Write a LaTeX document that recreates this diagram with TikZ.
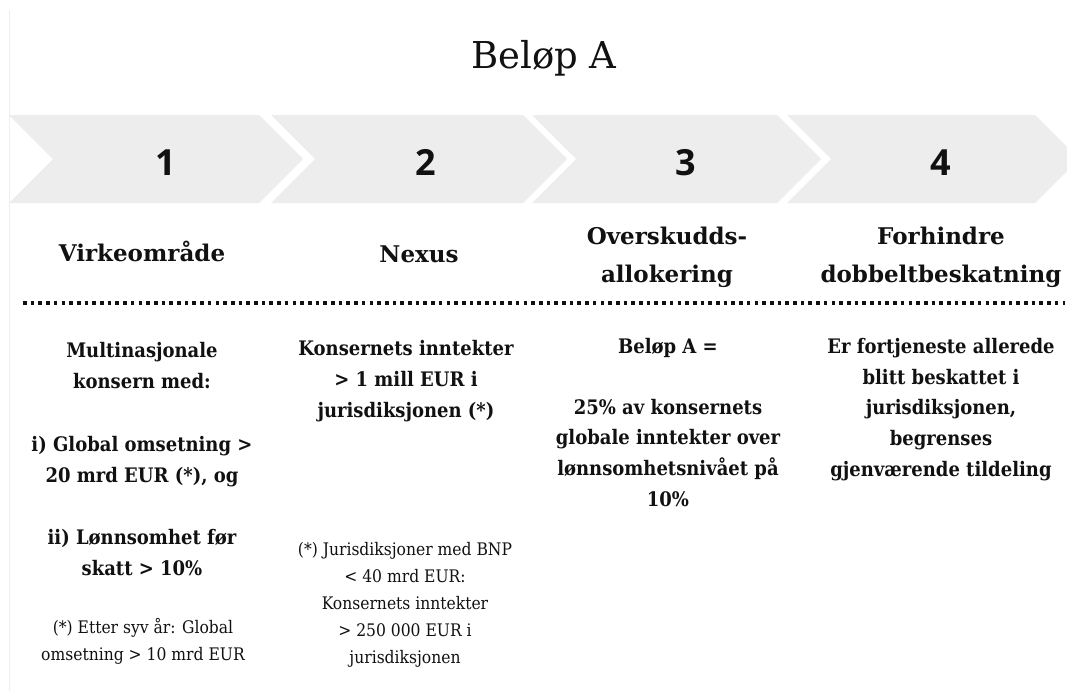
\documentclass[tikz,border=0pt]{standalone}
\usepackage{fontspec}
\setmainfont{DejaVu Serif}
\newfontfamily\condfont{DejaVu Serif Condensed}
\newfontfamily\numfont{Open Sans}
\definecolor{chevgray}{HTML}{EDEDED}
\definecolor{faintline}{HTML}{EEEEEE}
\definecolor{ink}{HTML}{111111}
\begin{document}
\begin{tikzpicture}[x=1pt,y=-1pt,
  chev/.style={fill=chevgray},
  num/.style={font=\numfont\bfseries\fontsize{36}{36}\selectfont, anchor=base, inner sep=0pt, text=ink},
  ttl/.style={font=\fontsize{37}{37}\selectfont, anchor=base, inner sep=0pt, text=ink},
  head/.style={font=\bfseries\fontsize{23}{23}\selectfont, anchor=base, inner sep=0pt, text=ink},
  body/.style={font=\condfont\bfseries\fontsize{20}{20}\selectfont, anchor=base, inner sep=0pt, text=ink},
  small/.style={font=\condfont\fontsize{17.3}{17.3}\selectfont, anchor=base, inner sep=0pt, text=ink},
  dotline/.style={line width=3.6pt, dash pattern=on 3.6pt off 4.1pt, draw=ink}]
\clip (0,0) rectangle (1067,691);
\fill[white] (0,0) rectangle (1067,691);
\draw[faintline, line width=1pt] (9,10) -- (9,691);
% chevrons
\foreach \L/\R in {9/259, 271/523, 532/777, 787/1035} {
  \fill[chev] (\L,115) -- (\R,115) -- (\R+44,159) -- (\R,203) -- (\L,203) -- (\L+44,159) -- cycle;
}
% title
\node[ttl] (title) at (544,68) {Beløp A};
% numbers
\node[num] (n1) at (166,175) {1};
\node[num] (n2) at (426,175) {2};
\node[num] (n3) at (686,175) {3};
\node[num] (n4) at (941,175) {4};
% headings
\node[head] (h1) at (142,261) {Virkeområde};
\node[head] (h2) at (419,262) {Nexus};
\node[head] (h3a) at (667,244) {Overskudds-};
\node[head] (h3b) at (667,282) {allokering};
\node[head] (h4a) at (941,244) {Forhindre};
\node[head] (h4b) at (941,282) {dobbeltbeskatning};
% dotted separator
\coordinate (dl) at (23,303);
\coordinate (dr) at (1065,303);
\draw[dotline] (dl) -- (dr);
% column 1
\node[body] (c1a) at (142,357) {Multinasjonale};
\node[body] (c1b) at (142,388) {konsern med:};
\node[body] (c1c) at (142,451) {i) Global omsetning >};
\node[body] (c1d) at (142,482) {20 mrd EUR (*), og};
\node[body] (c1e) at (142,544) {ii) Lønnsomhet før};
\node[body] (c1f) at (142,575) {skatt > 10\%};
\node[small] (c1g) at (143,633) {(*) Etter syv år: Global};
\node[small] (c1h) at (143,660) {omsetning > 10 mrd EUR};
% column 2
\node[body] (c2a) at (406,355) {Konsernets inntekter};
\node[body] (c2b) at (406,386) {> 1 mill EUR i};
\node[body] (c2c) at (406,417) {jurisdiksjonen (*)};
\node[small] (c2d) at (405,555) {(*) Jurisdiksjoner med BNP};
\node[small] (c2e) at (405,582) {< 40 mrd EUR:};
\node[small] (c2f) at (405,609) {Konsernets inntekter};
\node[small] (c2g) at (405,636) {> 250 000 EUR i};
\node[small] (c2h) at (405,663) {jurisdiksjonen};
% column 3
\node[body] (c3a) at (668,353) {Beløp A =};
\node[body] (c3b) at (668,414) {25\% av konsernets};
\node[body] (c3c) at (668,444) {globale inntekter over};
\node[body] (c3d) at (668,475) {lønnsomhetsnivået på};
\node[body] (c3e) at (668,506) {10\%};
% column 4
\node[body] (c4a) at (941,353) {Er fortjeneste allerede};
\node[body] (c4b) at (941,384) {blitt beskattet i};
\node[body] (c4c) at (941,414) {jurisdiksjonen,};
\node[body] (c4d) at (941,445) {begrenses};
\node[body] (c4e) at (941,476) {gjenværende tildeling};
\end{tikzpicture}
\end{document}
